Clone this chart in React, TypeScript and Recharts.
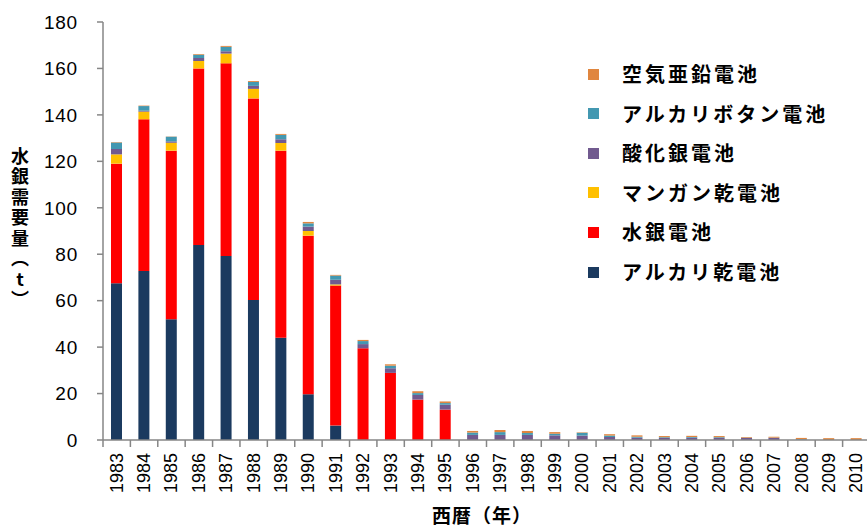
import React from 'react';
import { BarChart, Bar, XAxis, YAxis } from 'recharts';

const years = ['1983','1984','1985','1986','1987','1988','1989','1990','1991','1992','1993','1994','1995','1996','1997','1998','1999','2000','2001','2002','2003','2004','2005','2006','2007','2008','2009','2010'];
const alkalineDry = [67.5, 72.8, 52, 84, 79.2, 60.3, 44, 19.7, 6.2, 0, 0, 0, 0, 0, 0, 0, 0, 0, 0, 0, 0, 0, 0, 0, 0, 0, 0, 0];
const mercury = [51.5, 65.3, 72.6, 76, 83, 86.8, 80.6, 68.3, 60.3, 39.5, 28.9, 17.4, 13.1, 0, 0, 0, 0, 0, 0, 0, 0, 0, 0, 0, 0, 0, 0, 0];
const manganese = [4, 3.3, 3.4, 3.2, 4.2, 4.1, 3.3, 2, 0.5, 0, 0, 0, 0, 0, 0, 0, 0, 0, 0, 0, 0, 0, 0, 0, 0, 0, 0, 0];
const silverOxide = [2.3, 0.4, 0.6, 1.3, 1, 1.3, 1.6, 1.9, 2, 1.8, 2, 2, 2.1, 2.2, 2.2, 2.2, 2, 1.9, 1.3, 1, 0.9, 1, 0.9, 0.9, 0.9, 0.2, 0, 0];
const alkalineButton = [2.8, 2, 2, 1.4, 1.9, 1.7, 1.9, 1.4, 1.8, 1.3, 1.1, 0.8, 0.7, 1, 1.2, 0.8, 0.7, 1.2, 0.6, 0.4, 0.3, 0.3, 0.3, 0.1, 0.1, 0.2, 0, 0];
const airZinc = [0.2, 0.2, 0.1, 0.3, 0.4, 0.4, 0.4, 0.6, 0.3, 0.5, 0.6, 0.8, 0.7, 0.7, 0.9, 0.9, 0.7, 0.2, 0.6, 0.6, 0.5, 0.5, 0.5, 0.3, 0.4, 0.5, 0.8, 0.8];
const yTicks = [0, 20, 40, 60, 80, 100, 120, 140, 160, 180];

const seriesNames = ['アルカリ乾電池', '水銀電池', 'マンガン乾電池', '酸化銀電池', 'アルカリボタン電池', '空気亜鉛電池'];
const seriesKeys = ['alkalineDry', 'mercury', 'manganese', 'silverOxide', 'alkalineButton', 'airZinc'];
const seriesColors = ['#1B3A5F', '#FF0000', '#FFC000', '#715A8F', '#4398B1', '#E0863F'];

const data = years.map((y, i) => ({
  year: y,
  alkalineDry: alkalineDry[i],
  mercury: mercury[i],
  manganese: manganese[i],
  silverOxide: silverOxide[i],
  alkalineButton: alkalineButton[i],
  airZinc: airZinc[i],
}));

const JP = '"Noto Sans CJK JP", sans-serif';
const NUM = '"Liberation Sans", Arial, sans-serif';

const XTick = (props: any) => {
  const { x, y, payload } = props;
  const half = 13.7;
  return (
    <g>
      <line x1={x - half} y1={y} x2={x - half} y2={y + 7} stroke="#868686" strokeWidth={1.5} />
      <text
        transform={`translate(${x},${y + 13}) rotate(-90)`}
        textAnchor="end"
        dominantBaseline="central"
        fontSize={18}
        fontFamily={NUM}
        fill="#000"
      >
        {payload.value}
      </text>
    </g>
  );
};

const LegendBox = () => {
  const order = [5, 4, 3, 2, 1, 0];
  return (
    <div style={{ position: 'absolute', left: 588, top: 60, width: 275, height: 240 }}>
      {order.map((idx, r) => (
        <div
          key={seriesKeys[idx]}
          style={{
            position: 'absolute',
            left: 0,
            top: r * 39.6,
            height: 28,
            display: 'flex',
            alignItems: 'center',
            whiteSpace: 'nowrap',
          }}
        >
          <span style={{ display: 'inline-block', width: 11, height: 11, background: seriesColors[idx] }} />
          <span
            style={{
              marginLeft: 23,
              fontFamily: JP,
              fontWeight: 700,
              fontSize: 20,
              letterSpacing: 3,
              color: '#000',
              lineHeight: '28px',
            }}
          >
            {seriesNames[idx]}
          </span>
        </div>
      ))}
    </div>
  );
};

export default function App() {
  return (
    <div style={{ position: 'absolute', left: 0, top: 0, width: 867, height: 527, overflow: 'hidden', background: '#fff' }}>
      <BarChart
        width={870}
        height={527}
        data={data}
        margin={{ top: 22, right: 0, bottom: 0, left: 0 }}
        barSize={11}
      >
        <XAxis
          dataKey="year"
          height={87}
          interval={0}
          tickSize={0}
          tickMargin={0}
          tickLine={false}
          axisLine={{ stroke: '#868686', strokeWidth: 1.5 }}
          tick={<XTick />}
          label={{
            content: () => (
              <text x={482} y={523} textAnchor="middle" fontFamily={JP} fontWeight={700} fontSize={19} letterSpacing={1} fill="#000">
                西暦（年）
              </text>
            ),
          }}
        />
        <YAxis
          width={103}
          domain={[0, 180]}
          ticks={yTicks}
          interval={0}
          tickSize={6}
          tickMargin={19}
          axisLine={{ stroke: '#868686', strokeWidth: 1.5 }}
          tickLine={{ stroke: '#868686', strokeWidth: 1.5 }}
          tick={{ fontSize: 19, fontFamily: NUM, fill: '#000', letterSpacing: 0.8 }}
          label={{
            content: () => (
              <text
                x={20}
                y={147}
                fontFamily={JP}
                fontWeight={700}
                fontSize={18}
                fill="#000"
                style={{ writingMode: 'vertical-rl', textOrientation: 'upright', letterSpacing: 2.5 } as any}
              >
                水銀需要量（t）
              </text>
            ),
          }}
        />
        {seriesKeys.map((k, i) => (
          <Bar key={k} dataKey={k} name={seriesNames[i]} stackId="a" fill={seriesColors[i]} isAnimationActive={false} />
        ))}
      </BarChart>
      <LegendBox />
    </div>
  );
}
